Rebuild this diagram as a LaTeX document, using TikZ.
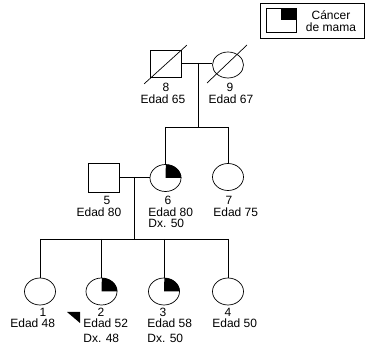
\documentclass[tikz,border=0pt]{standalone}
\usepackage{fontspec}
\setmainfont{Liberation Sans}
\usetikzlibrary{shapes.geometric}
\begin{document}
\begin{tikzpicture}[x=1pt,y=1pt,line width=0.7pt,
  male/.style={draw,rectangle,minimum width=31pt,minimum height=27pt,inner sep=0pt},
  female/.style={draw,ellipse,minimum width=31pt,minimum height=27pt,inner sep=0pt},
  txt/.style={inner sep=0pt,font=\fontsize{12}{14}\selectfont},
  ltxt/.style={txt,anchor=west}]
\useasboundingbox (0,0) rectangle (365,346);

% legend
\node[draw,rectangle,minimum width=104pt,minimum height=35pt,inner sep=0pt] (legend) at (312,325.5) {};
\node[draw,rectangle,minimum width=30pt,minimum height=24pt,inner sep=0pt] (legsq) at (281,326) {};
\fill (legsq.center) rectangle (legsq.north east);
\node[txt] (legA) at (331,331) {Cáncer};
\node[txt] (legB) at (331,318.5) {de mama};

% generation I
\node[male] (p8) at (166,282) {};
\node[female,minimum height=26pt] (p9) at (228,281) {};
\path (p8.south west) ++(-6,-6) coordinate (d8a);
\path (p8.north east) ++(5,5) coordinate (d8b);
\draw (d8a) -- (d8b);
\coordinate (d9a) at (207,263);
\coordinate (d9b) at (247,301);
\draw (d9a) -- (d9b);
\coordinate (m1) at (198,283);
\coordinate (s1) at (198,219);
\draw (p8.east |- m1) -- (p9.west |- m1);
\draw (m1) -- (s1);
\node[txt] (l8) at (166,259) {8};
\node[txt] (a8) at (163,247) {Edad 65};
\node[txt] (l9) at (230,259) {9};
\node[txt] (a9) at (231,247) {Edad 67};

% generation II
\node[male,minimum height=29pt] (p5) at (104,168) {};
\node[female] (p6) at (165.5,168) {};
\node[female] (p7) at (228,169) {};
\fill (p6.center) -- (p6.east) arc[start angle=0,end angle=90,x radius=15.5pt,y radius=13.5pt] -- cycle;
\draw (p6.north |- s1) -- (p7.north |- s1);
\draw (p6.north |- s1) -- (p6.north);
\draw (p7.north |- s1) -- (p7.north);
\coordinate (m2) at (134,169);
\coordinate (s2) at (134,107);
\draw (p5.east |- m2) -- (p6.west |- m2);
\draw (m2) -- (s2);
\node[txt] (l5) at (107,146) {5};
\node[txt] (a5) at (99,134) {Edad 80};
\node[txt] (l6) at (168,146) {6};
\node[ltxt] (a6) at (148,134) {Edad 80};
\node[ltxt] (x6) at (148,123) {Dx. 50};
\node[txt] (l7) at (229,146) {7};
\node[ltxt] (a7) at (213,134) {Edad 75};

% generation III
\node[female] (p1) at (40,54.5) {};
\node[female] (p2) at (101.5,54.5) {};
\node[female] (p3) at (164,54.5) {};
\node[female] (p4) at (228,54.5) {};
\foreach \q in {p2,p3}
  \fill (\q.center) -- (\q.east) arc[start angle=0,end angle=90,x radius=15.5pt,y radius=13.5pt] -- cycle;
\draw (p1.north |- s2) -- (p4.north |- s2);
\foreach \q in {p1,p2,p3,p4}
  \draw (\q.north |- s2) -- (\q.north);
\node[txt] (l1) at (43,34) {1};
\node[ltxt] (a1) at (10,23) {Edad 48};
\node[txt] (l2) at (101,34) {2};
\node[ltxt] (a2) at (83,23) {Edad 52};
\node[ltxt] (x2) at (83,8) {Dx. 48};
\node[txt] (l3) at (163,34) {3};
\node[ltxt] (a3) at (147,23) {Edad 58};
\node[ltxt] (x3) at (147,8) {Dx. 50};
\node[txt] (l4) at (228,34) {4};
\node[ltxt] (a4) at (212,23) {Edad 50};

% proband marker
\coordinate (pa) at (67,34);
\coordinate (pb) at (80,34);
\coordinate (pc) at (80,23);
\fill (pa) -- (pb) -- (pc) -- cycle;
\end{tikzpicture}
\end{document}
